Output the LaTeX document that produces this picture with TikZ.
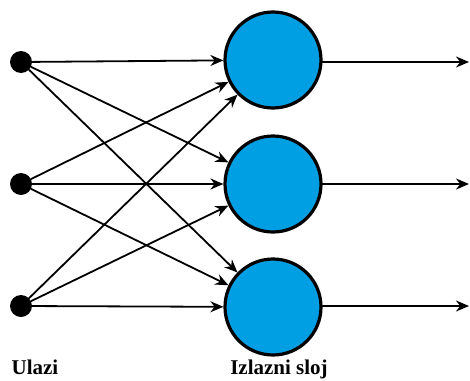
\documentclass[tikz,border=0pt]{standalone}
\usepackage{fontspec}
\setmainfont{Liberation Serif}
\usetikzlibrary{arrows.meta}

\definecolor{neuronblue}{RGB}{0,158,226}

\tikzset{
    ulaz/.style={circle, fill=black, inner sep=0pt, minimum size=22pt},
    neuron/.style={circle, draw=black, line width=3.2pt, fill=neuronblue, inner sep=0pt, minimum size=96pt},
    veza/.style={line width=1.8pt, -{Stealth[length=13pt,width=11pt]}},
    natpis/.style={font=\fontsize{21}{24}\selectfont\bfseries, anchor=base}
}

\begin{document}
\begin{tikzpicture}[line cap=round,line join=round,x=1pt,y=-1pt]
    \useasboundingbox (0,0) rectangle (470,380);

    % ulazni cvorovi
    \node[ulaz] (U1) at (21,62) {};
    \node[ulaz] (U2) at (21,184) {};
    \node[ulaz] (U3) at (21,306) {};

    % izlazni sloj
    \node[neuron] (N1) at (273,60) {};
    \node[neuron] (N2) at (273,184) {};
    \node[neuron] (N3) at (273,307) {};

    \coordinate (I1) at (469,62);
    \coordinate (I2) at (469,184);
    \coordinate (I3) at (469,306);

    \draw[veza] (U1) -- (N1);
    \draw[veza] (U1) -- (N2);
    \draw[veza] (U1) -- (N3);
    \draw[veza] (U2) -- (N1);
    \draw[veza] (U2) -- (N2);
    \draw[veza] (U2) -- (N3);
    \draw[veza] (U3) -- (N1);
    \draw[veza] (U3) -- (N2);
    \draw[veza] (U3) -- (N3);

    \draw[veza] (N1.east |- I1) -- (I1);
    \draw[veza] (N2.east |- I2) -- (I2);
    \draw[veza] (N3.east |- I3) -- (I3);

    \node[natpis] (L1) at (35,374) {Ulazi};
    \node[natpis] (L2) at (279,374) {Izlazni sloj};

\end{tikzpicture}
\end{document}
